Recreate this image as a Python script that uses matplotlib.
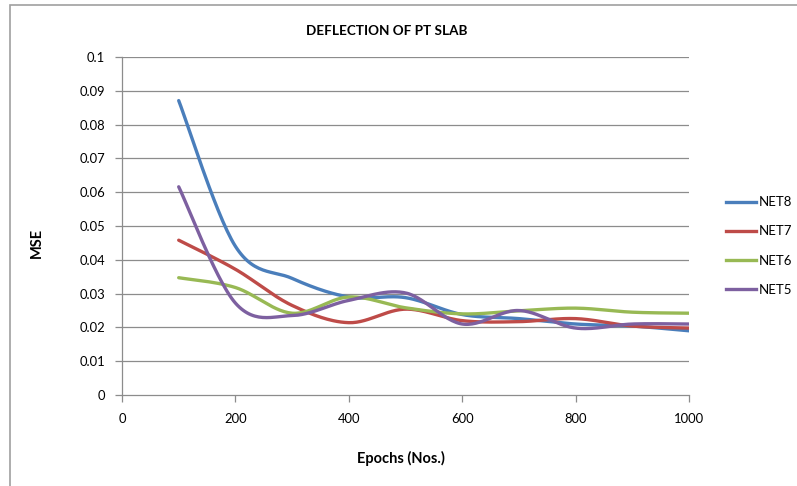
import numpy as np
import matplotlib
matplotlib.use("Agg")
import matplotlib.pyplot as plt
from matplotlib.lines import Line2D
from matplotlib.patches import Rectangle

epochs = [100, 200, 300, 400, 500, 600, 700, 800, 900, 1000]
net8 = [0.0871, 0.0440, 0.0345, 0.0290, 0.0288, 0.0238, 0.0226, 0.0210, 0.0204, 0.0190]
net7 = [0.0458, 0.0372, 0.0265, 0.0214, 0.0254, 0.0220, 0.0217, 0.0226, 0.0204, 0.0198]
net6 = [0.0347, 0.0318, 0.0242, 0.0290, 0.0258, 0.0240, 0.0249, 0.0257, 0.0245, 0.0242]
net5 = [0.0616, 0.0272, 0.0235, 0.0280, 0.0302, 0.0210, 0.0250, 0.0198, 0.0210, 0.0210]
series_names = ["NET8", "NET7", "NET6", "NET5"]
colors = ["#4A7EBB", "#BE4B48", "#98B954", "#7D60A0"]

x_ticks = [0, 200, 400, 600, 800, 1000]
y_ticks = [0, 0.01, 0.02, 0.03, 0.04, 0.05, 0.06, 0.07, 0.08, 0.09, 0.1]
y_labels = ["0", "0.01", "0.02", "0.03", "0.04", "0.05", "0.06", "0.07", "0.08", "0.09", "0.1"]

plt.rcParams['font.family'] = ['Lato', 'DejaVu Sans']


def smooth(xs, ys, n=30):
    # Excel-like smoothing (Catmull-Rom Bezier through the points)
    xs = np.asarray(xs, float)
    ys = np.asarray(ys, float)
    px = np.concatenate([[xs[0]], xs, [xs[-1]]])
    py = np.concatenate([[ys[0]], ys, [ys[-1]]])
    outx, outy = [], []
    t = np.linspace(0, 1, n)
    for i in range(1, len(px) - 2):
        p0 = np.array([px[i], py[i]])
        p3 = np.array([px[i + 1], py[i + 1]])
        c1 = p0 + (np.array([px[i + 1], py[i + 1]]) - np.array([px[i - 1], py[i - 1]])) / 6
        c2 = p3 - (np.array([px[i + 2], py[i + 2]]) - np.array([px[i], py[i]])) / 6
        b = ((1 - t) ** 3)[:, None] * p0 + (3 * (1 - t) ** 2 * t)[:, None] * c1 \
            + (3 * (1 - t) * t ** 2)[:, None] * c2 + (t ** 3)[:, None] * p3
        outx.extend(b[:, 0])
        outy.extend(b[:, 1])
    return outx, outy


W, H = 797, 486
fig = plt.figure(figsize=(W / 100, H / 100), dpi=100)
fig.patches.append(Rectangle((10 / W, -0.1), 2, 1.1 - 5 / H, transform=fig.transFigure,
                             fill=False, edgecolor="#A0A0A0", linewidth=1.2))

left, right, top, bottom = 122, 689, 57, 395
ax = fig.add_axes([left / W, 1 - bottom / H, (right - left) / W, (bottom - top) / H])
ax.set_xlim(0, 1000)
ax.set_ylim(0, 0.1)

grid_c = "#8C8C8C"
for yv in y_ticks[1:]:
    ax.axhline(yv, color=grid_c, linewidth=0.9, zorder=1)

for ys, c in zip([net8, net7, net6, net5], colors):
    sx, sy = smooth(epochs, ys)
    ax.plot(sx, sy, color=c, linewidth=2.4, solid_capstyle="round", zorder=3)

for s in ["top", "right"]:
    ax.spines[s].set_visible(False)
for s in ["left", "bottom"]:
    ax.spines[s].set_color(grid_c)
    ax.spines[s].set_linewidth(0.9)

ax.set_xticks(x_ticks)
ax.set_xticklabels([str(v) for v in x_ticks])
ax.set_yticks(y_ticks)
ax.set_yticklabels(y_labels)
ax.tick_params(axis="both", colors=grid_c, labelcolor="black", labelsize=9.4,
               length=5, width=0.9, direction="out")
ax.tick_params(axis="y", pad=7)
ax.tick_params(axis="x", pad=8)

fig.text(387 / W, 1 - 31 / H, "DEFLECTION OF PT SLAB", ha="center", va="center",
         fontsize=9.7, fontweight="bold")
fig.text(401 / W, 1 - 458 / H, "Epochs (Nos.)", ha="center", va="center",
         fontsize=10.5, fontweight="bold")
fig.text(37 / W, 1 - 243 / H, "MSE", ha="center", va="center", rotation=90,
         fontsize=10.5, fontweight="bold")

handles = [Line2D([0], [0], color=c, linewidth=2.4) for c in colors]
leg = fig.legend(handles, series_names, loc="center left",
                 bbox_to_anchor=(714 / W, 1 - 246 / H), frameon=False,
                 fontsize=9.5, handlelength=2.3, handletextpad=0.2,
                 labelspacing=1.3)

fig.savefig("out.png", dpi=100)
